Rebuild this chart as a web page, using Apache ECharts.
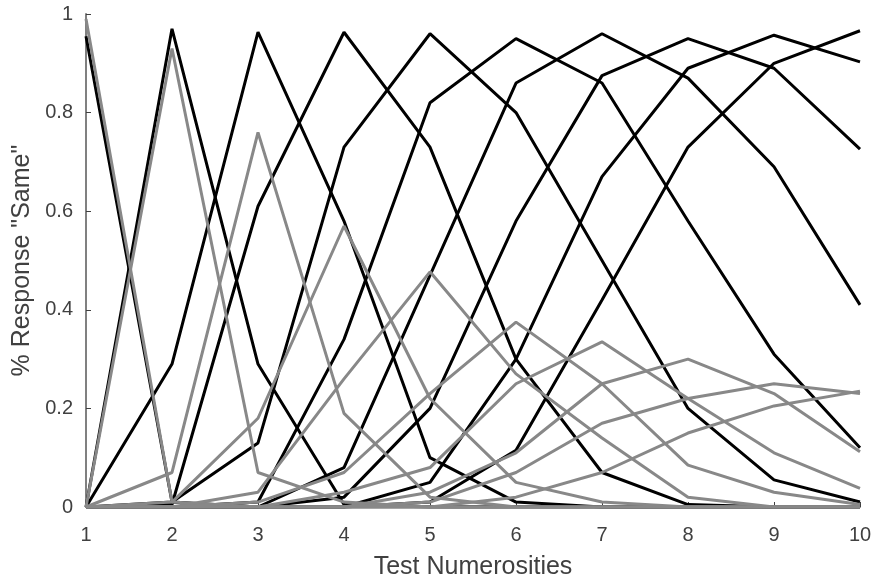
<!DOCTYPE html>
<html>
<head>
<meta charset="utf-8">
<script src="https://cdn.jsdelivr.net/npm/echarts@6/dist/echarts.min.js"></script>
<style>
html, body { margin: 0; padding: 0; background: #fff; }
#main { width: 875px; height: 577px; }
</style>
</head>
<body>
<div id="main"></div>
<script>
// test numerosities on the x axis
var testNumbers = [1, 2, 3, 4, 5, 6, 7, 8, 9, 10];
var yTicks = [0, 0.2, 0.4, 0.6, 0.8, 1];

// black curves, one per sample numerosity
var black1 = [0.955, 0.01, 0, 0, 0, 0, 0, 0, 0, 0];
var black2 = [0, 0.97, 0.29, 0.005, 0, 0, 0, 0, 0, 0];
var black3 = [0, 0.29, 0.963, 0.58, 0.10, 0.01, 0, 0, 0, 0];
var black4 = [0, 0.005, 0.61, 0.963, 0.73, 0.30, 0.07, 0.005, 0, 0];
var black5 = [0, 0.01, 0.13, 0.73, 0.96, 0.80, 0.50, 0.20, 0.055, 0.01];
var black6 = [0, 0, 0.01, 0.34, 0.82, 0.95, 0.86, 0.58, 0.31, 0.12];
var black7 = [0, 0, 0, 0.08, 0.47, 0.86, 0.96, 0.87, 0.69, 0.41];
var black8 = [0, 0, 0, 0.02, 0.20, 0.58, 0.875, 0.95, 0.89, 0.726];
var black9 = [0, 0, 0, 0, 0.05, 0.30, 0.67, 0.89, 0.957, 0.903];
var black10 = [0, 0, 0, 0, 0.01, 0.115, 0.42, 0.73, 0.90, 0.966];

// gray curves
var gray1 = [0.99, 0.01, 0, 0, 0, 0, 0, 0, 0, 0];
var gray2 = [0, 0.93, 0.07, 0.01, 0, 0, 0, 0, 0, 0];
var gray3 = [0, 0.07, 0.76, 0.19, 0.02, 0, 0, 0, 0, 0];
var gray4 = [0, 0.01, 0.18, 0.57, 0.22, 0.05, 0.01, 0, 0, 0];
var gray5 = [0, 0, 0.03, 0.26, 0.477, 0.27, 0.14, 0.02, 0, 0];
var gray6 = [0, 0, 0.01, 0.07, 0.23, 0.375, 0.25, 0.085, 0.03, 0.005];
var gray7 = [0, 0, 0, 0.03, 0.08, 0.25, 0.335, 0.22, 0.11, 0.038];
var gray8 = [0, 0, 0, 0, 0.03, 0.11, 0.25, 0.30, 0.23, 0.112];
var gray9 = [0, 0, 0, 0, 0.01, 0.07, 0.17, 0.22, 0.25, 0.23];
var gray10 = [0, 0, 0, 0, 0, 0.02, 0.07, 0.15, 0.205, 0.235];

var blackCurves = [black1, black2, black3, black4, black5, black6, black7, black8, black9, black10];
var grayCurves = [gray1, gray2, gray3, gray4, gray5, gray6, gray7, gray8, gray9, gray10];

function toPoints(values) {
	var pts = [];
	for (var i = 0; i < values.length; i++) {
		pts.push([testNumbers[i], values[i]]);
	}
	return pts;
}

function makeSeries(values, color, name) {
	return {
		name : name,
		type : 'line',
		data : toPoints(values),
		symbol : 'none',
		animation : false,
		lineStyle : { color : color, width : 3 },
		z : 2
	};
}

var series = [];
for (var i = 0; i < blackCurves.length; i++) {
	series.push(makeSeries(blackCurves[i], '#000000', 'black' + (i + 1)));
}
for (var i = 0; i < grayCurves.length; i++) {
	series.push(makeSeries(grayCurves[i], '#888888', 'gray' + (i + 1)));
}

var myChart = echarts.init(document.getElementById('main'));
var font = 'Liberation Sans, Arial, sans-serif';
var option = {
	backgroundColor : '#ffffff',
	animation : false,
	grid : { left : 86, right : 15, top : 14, bottom : 70, containLabel : false, outerBoundsMode : 'none' },
	xAxis : {
		type : 'value',
		min : 1,
		max : 10,
		interval : 1,
		name : 'Test Numerosities',
		nameLocation : 'middle',
		nameGap : 48,
		nameTextStyle : { fontFamily : font, fontSize : 25, color : '#404040' },
		axisLine : { lineStyle : { color : '#808080', width : 2 } },
		axisTick : { inside : true, length : 5, lineStyle : { color : '#404040' } },
		axisLabel : { fontFamily : font, fontSize : 20, color : '#404040', margin : 18 },
		splitLine : { show : false }
	},
	yAxis : {
		type : 'value',
		min : 0,
		max : 1,
		interval : 0.2,
		name : '% Response "Same"',
		nameLocation : 'middle',
		nameGap : 51,
		nameTextStyle : { fontFamily : font, fontSize : 25, color : '#404040' },
		axisLine : { show : true, lineStyle : { color : '#808080', width : 2 } },
		axisTick : { show : true, inside : true, length : 5, lineStyle : { color : '#404040' } },
		axisLabel : {
			fontFamily : font, fontSize : 20, color : '#404040', margin : 13,
			formatter : function (v) { return String(Math.round(v * 10) / 10); }
		},
		splitLine : { show : false }
	},
	series : series
};
myChart.setOption(option);
</script>
</body>
</html>
